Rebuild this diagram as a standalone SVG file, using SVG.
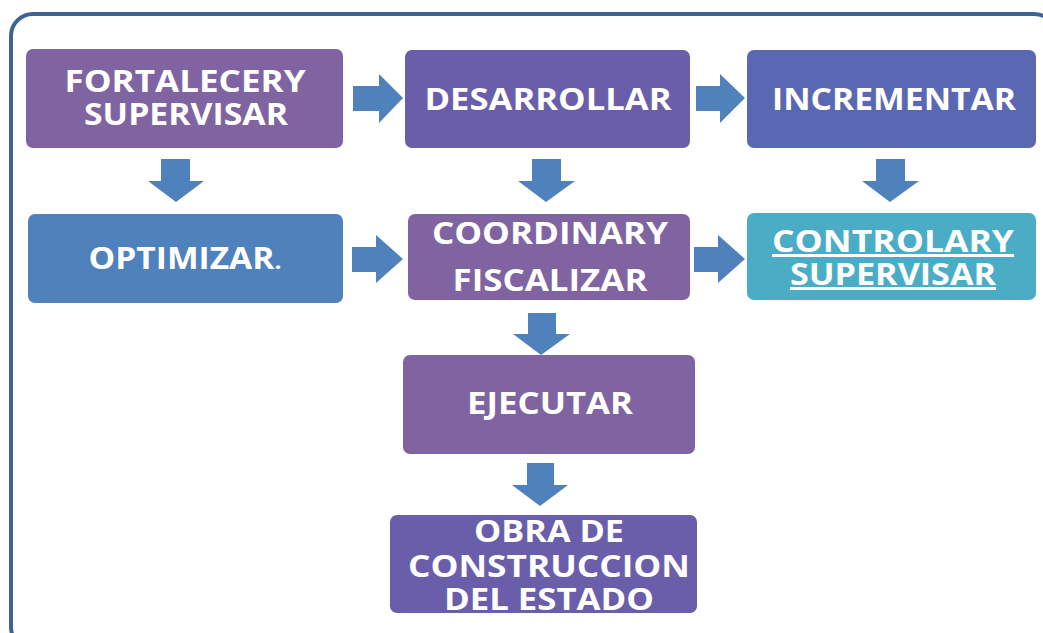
<svg xmlns="http://www.w3.org/2000/svg" width="1043" height="633" viewBox="0 0 1043 633">
<style>
.t{font-family:"Open Sans",Lato,"Liberation Sans",sans-serif;font-weight:bold;font-size:30px;fill:#fff;text-anchor:middle}
.a{fill:#4F81BD}
.p{fill:#8064A2}
.v{fill:#6A5DAA}
</style>
<rect x="11" y="14" width="1045" height="635" rx="22" fill="#fff" stroke="#3E6291" stroke-width="4"/>
<g id="connectors">
<polygon class="a" points="353,86 379,86 379,74 403,98 379,123 379,111 353,111"/>
<polygon class="a" points="696,86 720,86 720,74 745,98 720,123 720,111 696,111"/>
<polygon class="a" points="352,247 376,247 376,235 403,259 376,283 376,272 352,272"/>
<polygon class="a" points="694,247 718,247 718,235 745,259 718,283 718,272 694,272"/>
<polygon class="a" points="161,159 190,159 190,181 204,181 176,202 148,181 161,181"/>
<polygon class="a" points="532,159 561,159 561,181 575,181 546,202 518,181 532,181"/>
<polygon class="a" points="876,159 905,159 905,181 919,181 890,202 862,181 876,181"/>
<polygon class="a" points="528,313 556,313 556,334 570,334 541,355 513,334 528,334"/>
<polygon class="a" points="527,463 554,463 554,485 568,485 540,506 512,485 527,485"/>
</g>
<g id="n1"><rect class="p" x="26" y="49" width="317" height="99" rx="7"/><text class="t" x="185" y="92" textLength="241" lengthAdjust="spacingAndGlyphs">FORTALECERY</text><text class="t" x="186" y="125" textLength="204" lengthAdjust="spacingAndGlyphs">SUPERVISAR</text></g>
<g id="n2"><rect class="v" x="405" y="50" width="285" height="98" rx="7"/><text class="t" x="548" y="110" textLength="247" lengthAdjust="spacingAndGlyphs">DESARROLLAR</text></g>
<g id="n3"><rect x="747" y="50" width="289" height="98" rx="7" fill="#5A68B4"/><text class="t" x="894" y="110" textLength="244" lengthAdjust="spacingAndGlyphs">INCREMENTAR</text></g>
<g id="n4"><rect class="a" x="28" y="214" width="315" height="89" rx="7"/><text class="t" x="185" y="269" textLength="193" lengthAdjust="spacingAndGlyphs">OPTIMIZAR<tspan font-size="22">.</tspan></text></g>
<g id="n5"><rect class="p" x="408" y="214" width="282" height="86" rx="7"/><text class="t" x="550" y="244" textLength="236" lengthAdjust="spacingAndGlyphs">COORDINARY</text><text class="t" x="550" y="291" textLength="195" lengthAdjust="spacingAndGlyphs">FISCALIZAR</text></g>
<g id="n6"><rect x="747" y="213" width="289" height="87" rx="7" fill="#4BACC6"/><text class="t" x="893" y="252" text-decoration="underline" textLength="242" lengthAdjust="spacingAndGlyphs">CONTROLARY</text><text class="t" x="893" y="285" text-decoration="underline" textLength="206" lengthAdjust="spacingAndGlyphs">SUPERVISAR</text></g>
<g id="n7"><rect class="p" x="403" y="355" width="292" height="99" rx="7"/><text class="t" x="550" y="414" textLength="166" lengthAdjust="spacingAndGlyphs">EJECUTAR</text></g>
<g id="n8"><rect class="v" x="390" y="515" width="307" height="98" rx="7"/><text class="t" x="549" y="542" textLength="150" lengthAdjust="spacingAndGlyphs">OBRA DE</text><text class="t" x="549" y="577" textLength="282" lengthAdjust="spacingAndGlyphs">CONSTRUCCION</text><text class="t" x="549" y="610" textLength="210" lengthAdjust="spacingAndGlyphs">DEL ESTADO</text></g>
</svg>
